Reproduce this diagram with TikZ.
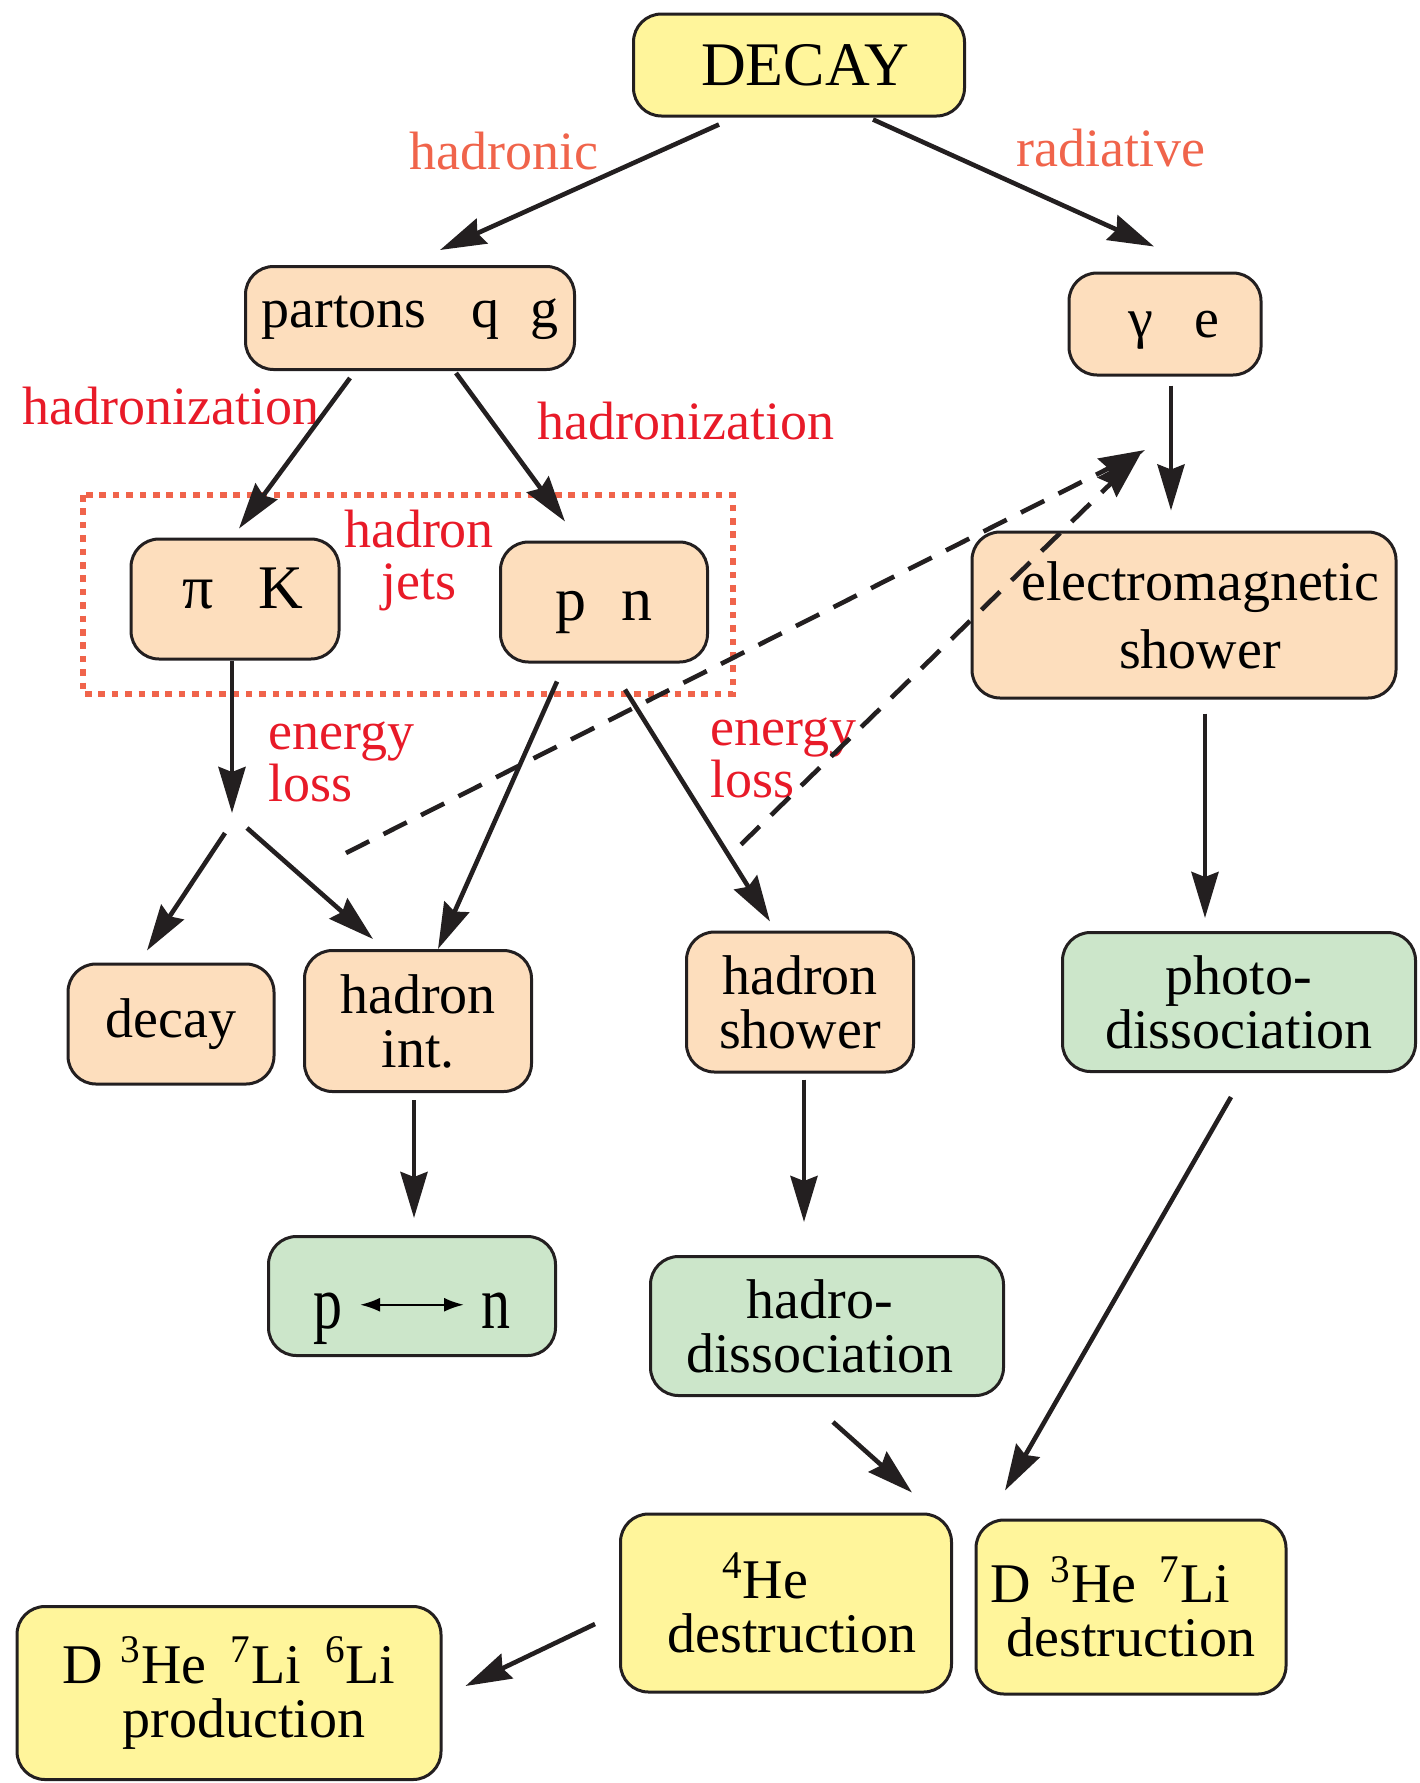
\RequirePackage{fix-cm}
\documentclass[tikz,border=0pt]{standalone}
\usepackage{fontspec}
\setmainfont{Liberation Serif}
\usetikzlibrary{arrows.meta,calc}

\definecolor{boxline}{HTML}{231F20}
\definecolor{peach}{HTML}{FDDEBD}
\definecolor{mint}{HTML}{CCE6CA}
\definecolor{lemon}{HTML}{FFF59B}
\definecolor{salmon}{HTML}{F0644B}
\definecolor{labelred}{HTML}{E81A28}

% Text tiefer/hoeher setzen, Box bleibt
\newcommand{\lift}[2]{\raisebox{#1}[\height][\depth]{#2}}

\begin{document}
\begin{tikzpicture}[x=0.5pt,y=-0.5pt,line width=2.3pt,
	box/.style={draw=boxline,line width=1.5pt,rounded corners=14pt,align=center,inner sep=0pt,font=\fontsize{28}{27}\selectfont},
	hbox/.style={box,fill=peach},
	gbox/.style={box,fill=mint},
	ybox/.style={box,fill=lemon},
	lbl/.style={text=labelred,font=\fontsize{27}{26}\selectfont,align=left,inner sep=0pt},
	arr/.style={draw=boxline,-{Stealth[length=23pt,width=13.5pt,inset=2.5pt]}},
	dsh/.style={arr,dash pattern=on 13pt off 8pt}]
\useasboundingbox (0,0) rectangle (1419,1783);

% jets
\draw[salmon,line width=3pt,dash pattern=on 3.3pt off 3.4pt] (83,495) rectangle (733,694);

% boxes
\node[ybox,minimum width=165.5pt,minimum height=51pt,font=\fontsize{31}{31}\selectfont] (top) at (799,65) {\hspace*{6pt}DECAY};
\node[hbox,minimum width=164.5pt,minimum height=51.5pt] (partons) at (410,318) {partons\hspace{0.8em}q\hspace{0.55em}g};
\node[hbox,minimum width=96pt,minimum height=51pt] (game) at (1165,324) {\lift{-3pt}{\hspace*{9pt}γ\hspace{0.75em}e}};
\node[hbox,minimum width=104pt,minimum height=60pt,font=\fontsize{31}{31}\selectfont] (pik) at (235,599) {\lift{5.5pt}{\hspace*{8pt}π\hspace{0.72em}K}};
\node[hbox,minimum width=103.5pt,minimum height=60pt,font=\fontsize{31}{31}\selectfont] (pn) at (604,602) {\lift{-5.3pt}{p\hspace{0.55em}n}};
\node[hbox,minimum width=212pt,minimum height=83pt,font=\fontsize{28}{34}\selectfont] (em) at (1184,615) {\hspace*{16pt}electromagnetic\\\hspace*{16pt}shower};
\node[hbox,minimum width=103pt,minimum height=60pt] (dec) at (171,1024) {decay};
\node[hbox,minimum width=113.5pt,minimum height=70.5pt] (hint) at (418,1021) {hadron\\int.};
\node[hbox,minimum width=113.5pt,minimum height=70pt] (hshower) at (800,1002) {hadron\\shower};
\node[gbox,minimum width=176.5pt,minimum height=69.5pt] (photo) at (1239,1002) {photo-\\dissociation};
\node[gbox,minimum width=143.5pt,minimum height=59.5pt,font=\fontsize{29}{29}\selectfont] (pton) at (412,1296)
	{\lift{-11.5pt}{\scalebox{1}[1.3]{p}\hspace{8pt}\tikz[baseline={(0pt,-12pt)}]\draw[line width=1.2pt,{Latex[length=10pt,width=7pt]}-{Latex[length=10pt,width=7pt]}] (0pt,0pt) -- (52pt,0pt);\hspace{8pt}\scalebox{1}[1.3]{n}}};
\node[gbox,minimum width=176.5pt,minimum height=69.5pt] (hadro) at (827,1326) {\hspace*{-7pt}hadro-\\\hspace*{-7pt}dissociation};
\node[ybox,minimum width=165.5pt,minimum height=89pt] (hedest) at (786,1603) {\textsuperscript{4}He\hspace*{21pt}\\\hspace*{6pt}destruction};
\node[ybox,minimum width=155pt,minimum height=87pt] (lidest) at (1131,1607) {D\hspace{10pt}\textsuperscript{3}He\hspace{11.5pt}\textsuperscript{7}Li\hspace*{21pt}\\destruction};
\node[ybox,minimum width=212pt,minimum height=86.5pt] (liprod) at (229,1693) {D\hspace{9pt}\textsuperscript{3}He\hspace{12pt}\textsuperscript{7}Li\hspace{12pt}\textsuperscript{6}Li\\\hspace*{15pt}production};

% labels
\node[lbl,text=salmon] (lhadronic) at (504,151) {hadronic};
\node[lbl,text=salmon] (lradiative) at (1111,148) {radiative};
\node[lbl] (lhadl) at (171,406) {hadronization};
\node[lbl] (lhadr) at (686,421) {hadronization};
\node[lbl,align=center] (ljets) at (419,561) {hadron\\jets};
\node[lbl,anchor=west] (llossl) at (266,762) {energy\\loss};
\node[lbl,anchor=west] (llossr) at (708,758) {energy\\loss};

\coordinate (split) at (232,823);
\coordinate (emin) at (1145,450);

% arrows
\draw[arr] ($(top.south)+(-80,7)$) -- ($(partons.north)+(30,-15)$);
\draw[arr] ($(top.south)+(74,2)$) -- ($(game.north)+(-11,-25)$);
\draw[arr] ($(partons.south)+(-60,7)$) -- ($(pik.north)+(4,-9)$);
\draw[arr] ($(partons.south)+(46,2)$) -- ($(pn.north)+(-39,-19)$);
\draw[arr] ($(game.south)+(6,9)$) -- ($(em.north)+(-13,-20)$);
\draw[arr,shorten >=5pt] ($(pik.south)+(-3,0)$) -- (split);
\draw[arr] ($(split)+(-7,10)$) -- ($(dec.north)+(-24,-12)$);
\draw[arr] ($(split)+(15,5)$) -- ($(hint.north)+(-45,-10)$);
\draw[arr] ($(pn.south)+(-47,18)$) -- ($(hint.north)+(20,0)$);
\draw[arr] ($(pn.south)+(21,26)$) -- ($(hshower.north)+(-30,-9)$);
\draw[dsh] ($(split)+(114,30)$) -- (emin);
\draw[dsh] ($(hshower.north)+(-59,-86)$) -- ($(emin)+(-5,5)$);
\draw[arr] ($(em.south)+(21,14)$) -- ($(photo.north)+(-34,-13)$);
\draw[arr] ($(hint.south)+(-4,7)$) -- ($(pton.north)+(2,-17)$);
\draw[arr] ($(hshower.south)+(4,6)$) -- ($(hadro.north)+(-23,-33)$);
\draw[arr] ($(hadro.south)+(6,25)$) -- ($(hedest.north)+(126,-20)$);
\draw[arr] ($(photo.south)+(-8,24)$) -- ($(lidest.north)+(-126,-28)$);
\draw[arr] ($(hedest.west)+(-24,21)$) -- ($(liprod.east)+(23,-7)$);

\end{tikzpicture}
\end{document}
